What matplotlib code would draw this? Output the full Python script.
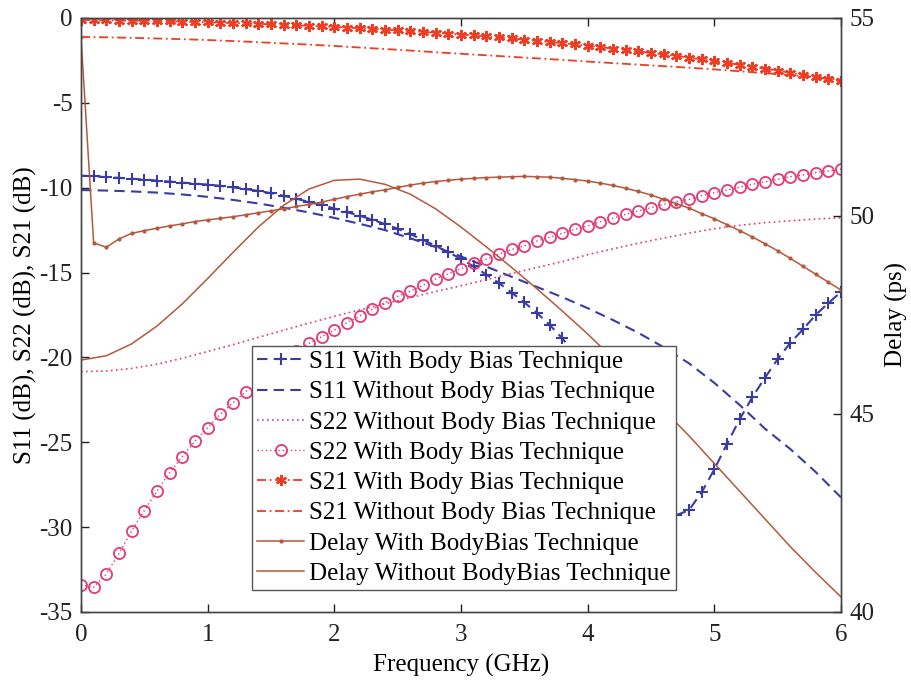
import numpy as np
import matplotlib
matplotlib.use("Agg")
import matplotlib.pyplot as plt

plt.rcParams["font.family"] = ["Liberation Serif", "DejaVu Serif"]
plt.rcParams["axes.unicode_minus"] = False

# frequency grids (GHz)
f_fine = np.round(np.arange(0, 6.01, 0.1), 2)
f_coarse = np.round(np.arange(0, 6.01, 0.2), 2)

# S11 with body bias (dB), 0.1 GHz step
s11_with = [-9.29, -9.33, -9.38, -9.42, -9.47, -9.52, -9.58, -9.64, -9.70, -9.76,
            -9.82, -9.89, -9.98, -10.08, -10.19, -10.32, -10.48, -10.65, -10.84, -11.02,
            -11.23, -11.44, -11.65, -11.89, -12.14, -12.42, -12.74, -13.07, -13.43, -13.80,
            -14.20, -14.64, -15.12, -15.62, -16.18, -16.76, -17.38, -18.08, -18.88, -19.80,
            -20.80, -21.90, -23.15, -24.50, -25.90, -27.30, -28.60, -29.30, -29.00, -27.95,
            -26.60, -25.10, -23.65, -22.35, -21.20, -20.10, -19.15, -18.35, -17.50, -16.80,
            -16.15]

# S11 without body bias (dB), 0.2 GHz step
s11_without = [-10.14, -10.17, -10.22, -10.29, -10.40, -10.54, -10.72, -10.93, -11.18, -11.46,
               -11.78, -12.13, -12.50, -12.98, -13.50, -14.05, -14.65, -15.25, -15.85, -16.45,
               -17.10, -17.80, -18.55, -19.40, -20.35, -21.50, -22.80, -24.20, -25.40, -26.75,
               -28.25]

# S22 without body bias (dB), 0.2 GHz step
s22_without = [-20.84, -20.80, -20.65, -20.40, -20.05, -19.65, -19.25, -18.82, -18.40, -17.98,
               -17.58, -17.20, -16.84, -16.48, -16.12, -15.78, -15.42, -15.06, -14.70, -14.36,
               -13.95, -13.60, -13.27, -12.97, -12.68, -12.42, -12.22, -12.06, -11.95, -11.85,
               -11.77]

# S22 with body bias (dB), 0.1 GHz step
s22_with = [-33.40, -33.55, -32.76, -31.55, -30.23, -29.03, -27.87, -26.79, -25.85, -24.93,
            -24.14, -23.35, -22.67, -22.02, -21.40, -20.80, -20.20, -19.65, -19.17, -18.78,
            -18.39, -17.96, -17.55, -17.17, -16.78, -16.40, -16.10, -15.75, -15.38, -15.08,
            -14.77, -14.46, -14.22, -13.92, -13.64, -13.43, -13.14, -12.92, -12.69, -12.45,
            -12.26, -12.00, -11.80, -11.57, -11.37, -11.18, -10.98, -10.82, -10.69, -10.47,
            -10.29, -10.14, -9.98, -9.80, -9.65, -9.51, -9.35, -9.25, -9.11, -9.02,
            -8.90]

# S21 with body bias (dB), 0.1 GHz step
s21_with = [-0.12, -0.13, -0.14, -0.15, -0.16, -0.17, -0.19, -0.20, -0.22, -0.24,
            -0.26, -0.28, -0.30, -0.32, -0.35, -0.37, -0.40, -0.43, -0.46, -0.50,
            -0.53, -0.57, -0.60, -0.64, -0.69, -0.73, -0.78, -0.82, -0.87, -0.92,
            -0.98, -1.03, -1.09, -1.15, -1.21, -1.28, -1.35, -1.42, -1.49, -1.56,
            -1.64, -1.72, -1.80, -1.88, -1.97, -2.06, -2.15, -2.24, -2.34, -2.44,
            -2.55, -2.65, -2.76, -2.87, -2.99, -3.10, -3.23, -3.35, -3.48, -3.61,
            -3.74]

# S21 without body bias (dB), 0.2 GHz step
s21_without = [-1.12, -1.14, -1.17, -1.21, -1.25, -1.30, -1.36, -1.43, -1.50, -1.57,
               -1.65, -1.74, -1.83, -1.92, -2.02, -2.11, -2.20, -2.29, -2.38, -2.47,
               -2.57, -2.66, -2.75, -2.84, -2.93, -3.03, -3.14, -3.25, -3.37, -3.50,
               -3.64]

# Delay with body bias (ps), 0.1 GHz step
delay_with = [54.52, 49.32, 49.21, 49.42, 49.56, 49.63, 49.69, 49.75, 49.80, 49.86,
              49.90, 49.94, 49.98, 50.03, 50.08, 50.13, 50.18, 50.24, 50.29, 50.35,
              50.42, 50.49, 50.55, 50.61, 50.66, 50.72, 50.78, 50.83, 50.87, 50.90,
              50.93, 50.95, 50.97, 50.98, 50.99, 51.00, 50.99, 50.98, 50.95, 50.92,
              50.88, 50.83, 50.77, 50.70, 50.62, 50.53, 50.42, 50.31, 50.20, 50.06,
              49.93, 49.78, 49.63, 49.47, 49.30, 49.12, 48.93, 48.73, 48.53, 48.33,
              48.13]

# Delay without body bias (ps), 0.2 GHz step
delay_without = [46.36, 46.47, 46.77, 47.22, 47.78, 48.42, 49.08, 49.72, 50.27, 50.68,
                 50.90, 50.93, 50.80, 50.55, 50.18, 49.72, 49.22, 48.70, 48.16, 47.60,
                 47.02, 46.40, 45.75, 45.10, 44.45, 43.75, 43.05, 42.35, 41.65, 41.00,
                 40.38]

labels = ["S11 With Body Bias Technique",
          "S11 Without Body Bias Technique",
          "S22 Without Body Bias Technique",
          "S22 With Body Bias Technique",
          "S21 With Body Bias Technique",
          "S21 Without Body Bias Technique",
          "Delay With BodyBias Technique",
          "Delay Without BodyBias Technique"]

blue = "#3b3ba6"
pink = "#e33a76"
red = "#f03c22"
brown = "#b5573d"

fig = plt.figure(figsize=(9.12, 6.83), dpi=100)
ax = fig.add_axes([0.0888, 0.104, 0.8333, 0.8697])
ax2 = ax.twinx()

h = []
h += ax.plot(f_fine, s11_with, color=blue, lw=1.5, dashes=(5, 3), marker="+",
             ms=9, mew=1.5, label=labels[0])
h += ax.plot(f_coarse, s11_without, color=blue, lw=1.5, dashes=(5, 3), label=labels[1])
h += ax.plot(f_coarse, s22_without, color=pink, lw=1.2, dashes=(1, 2), label=labels[2])
h += ax.plot(f_fine, s22_with, color=pink, lw=1.0, dashes=(1, 2), marker="o", ms=8,
             mfc="none", mec=pink, mew=1.3, label=labels[3])
h += ax.plot(f_fine, s21_with, color=red, lw=1.3, dashes=(5, 2, 1, 2), marker=(6, 2, 0),
             ms=8, mew=1.6, label=labels[4])
h += ax.plot(f_coarse, s21_without, color=red, lw=1.3, dashes=(5, 2, 1, 2), label=labels[5])
h += ax2.plot(f_fine, delay_with, color=brown, lw=1.1, marker=".", ms=4, label=labels[6])
h += ax2.plot(f_coarse, delay_without, color=brown, lw=1.1, label=labels[7])

ax.set_xlim(0, 6)
ax.set_ylim(-35, 0)
ax.set_yticks(np.arange(-35, 1, 5))
ax.set_xticks(np.arange(0, 7, 1))
ax2.set_ylim(40, 55)
ax2.set_yticks([40, 45, 50, 55])

for a in (ax, ax2):
    a.tick_params(direction="in", length=6, width=1, labelsize=18, colors="#222222")
    for s in a.spines.values():
        s.set_color("#444444")
        s.set_linewidth(1.0)
ax.tick_params(axis="x", top=True, pad=9)
ax.tick_params(axis="y", pad=6)
ax2.tick_params(axis="y", pad=6)

ax.set_xlabel("Frequency (GHz)", fontsize=18, labelpad=5)
ax.set_ylabel("S11 (dB), S22 (dB), S21 (dB)", fontsize=18, labelpad=2)
ax2.set_ylabel("Delay (ps)", fontsize=18, labelpad=8)

leg = ax2.legend(h, labels, loc="lower left", bbox_to_anchor=(0.225, 0.037),
                 borderaxespad=0, fontsize=18, frameon=True, fancybox=False,
                 framealpha=1, edgecolor="#555555", borderpad=0.2, labelspacing=0.31,
                 handlelength=1.9, handletextpad=0.2)
leg.get_frame().set_linewidth(1.0)

fig.savefig("out.png", dpi=100)
